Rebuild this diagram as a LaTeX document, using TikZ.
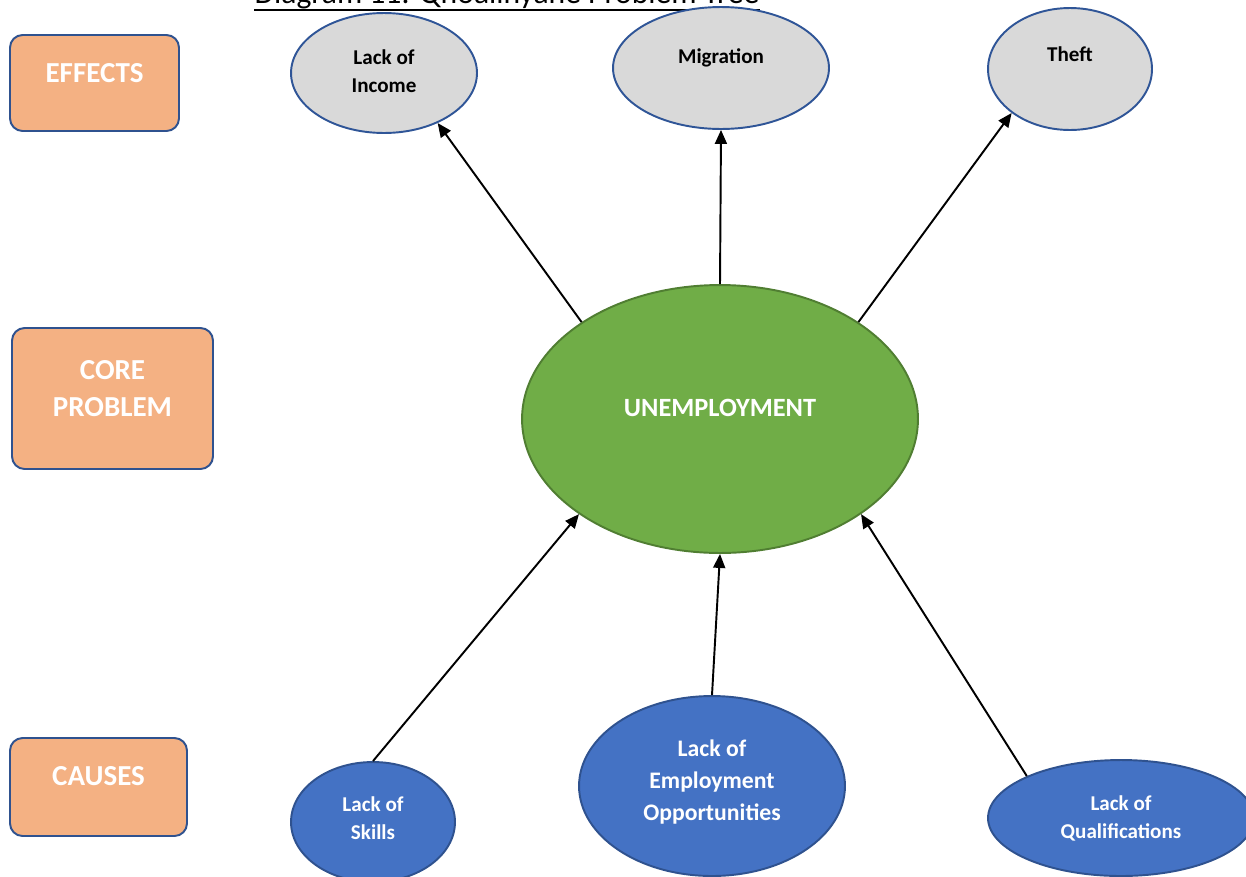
\documentclass[tikz,border=0pt]{standalone}
\usepackage{fontspec}
\setmainfont{Carlito}
\usepackage{xcolor}
\usepackage{tikz}
\usetikzlibrary{arrows.meta,shapes.geometric}

\definecolor{boxorange}{HTML}{F4B183}
\definecolor{boxline}{HTML}{2F528F}
\definecolor{effgray}{HTML}{D9D9D9}
\definecolor{effline}{HTML}{2F5597}
\definecolor{coregreen}{HTML}{70AD47}
\definecolor{coreline}{HTML}{507E32}
\definecolor{causeblue}{HTML}{4472C4}

\tikzset{
  sidebox/.style={rectangle,rounded corners=0.25cm,draw=boxline,fill=boxorange,line width=1.1pt,inner sep=0pt},
  sidetext/.style={text=white,font=\fontsize{16.5}{21.5}\bfseries,align=center},
  effect/.style={ellipse,draw=effline,fill=effgray,line width=1.1pt,inner sep=0pt},
  effecttext/.style={text=black,font=\fontsize{12}{16}\bfseries,align=center},
  core/.style={ellipse,draw=coreline,fill=coregreen,line width=1.1pt,inner sep=0pt},
  cause/.style={ellipse,draw=boxline,fill=causeblue,line width=1.1pt,inner sep=0pt},
  causetext/.style={text=white,font=\fontsize{12}{16}\bfseries,align=center},
  arr/.style={-{Triangle[length=0.28cm,width=0.24cm]},line width=1.1pt,black}
}

\begin{document}
\begin{tikzpicture}[x=0.02cm,y=-0.02cm]
\clip (0,0) rectangle (1246,876);

% title, cut off at the top edge
\node[font=\fontsize{18}{20}\selectfont,anchor=base,inner sep=0pt] (title) at (507,3) {Diagram 11: Qhoalinyane Problem Tree};
\draw[line width=1.2pt] ([yshift=-4pt]title.base west) -- ([yshift=-4pt]title.base east);

% left column
\node[sidebox,minimum width=3.38cm,minimum height=1.92cm,
      label={[sidetext,yshift=0.2cm]center:EFFECTS}] (effects) at (94.5,83) {};
\node[sidebox,minimum width=4.02cm,minimum height=2.82cm,
      label={[sidetext,yshift=0.2cm]center:CORE\\PROBLEM}] (coreprob) at (112.5,398.5) {};
\node[sidebox,minimum width=3.54cm,minimum height=1.96cm,
      label={[sidetext,yshift=0.22cm]center:CAUSES}] (causes) at (98.5,787) {};

% effects
\node[effect,minimum width=3.72cm,minimum height=2.4cm,
      label={[effecttext,yshift=0.04cm]center:Lack of\\Income}] (income) at (384,73) {};
\node[effect,minimum width=4.32cm,minimum height=2.44cm,
      label={[effecttext,yshift=0.2cm]center:Migration}] (migration) at (721,68) {};
\node[effect,minimum width=3.28cm,minimum height=2.44cm,
      label={[effecttext,yshift=0.3cm]center:Theft}] (theft) at (1070,69) {};

% core problem
\node[core,minimum width=7.92cm,minimum height=5.36cm,
      label={[text=white,font=\fontsize{15}{18}\bfseries,yshift=0.22cm]center:UNEMPLOYMENT}] (unemp) at (720,419) {};

% causes
\node[cause,minimum width=3.28cm,minimum height=2.4cm,
      label={[causetext,yshift=0.08cm]center:Lack of\\Skills}] (skills) at (373,822) {};
\node[cause,minimum width=5.32cm,minimum height=3.6cm,
      label={[causetext,yshift=0.08cm,font=\fontsize{13.5}{18}\bfseries]center:Lack of\\Employment\\Opportunities}] (employ) at (712,786) {};
\node[cause,minimum width=5.32cm,minimum height=2.32cm,
      label={[causetext]center:Lack of\\Qualifications}] (qualif) at (1121,818) {};

% arrows
\path (unemp.145) edge [arr] (income.317);
\path (unemp.90) edge [arr] (migration.270);
\path (unemp.35) edge [arr] (theft.217);
\path (skills.90) edge [arr] (unemp.214);
\path (employ.90) edge [arr] (unemp.270);
\path (qualif.156) edge [arr] (unemp.326);

\end{tikzpicture}
\end{document}
